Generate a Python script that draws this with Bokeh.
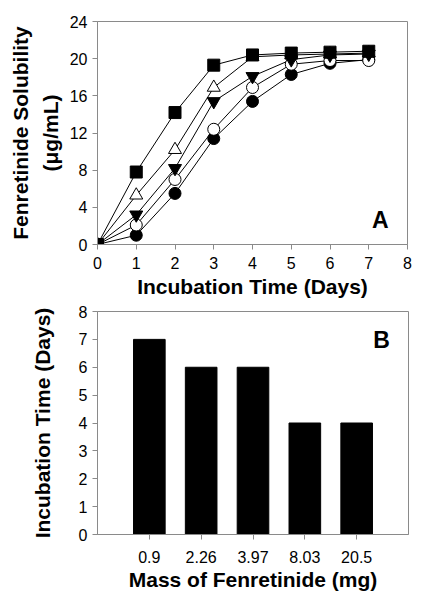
from bokeh.plotting import figure
from bokeh.layouts import column
from bokeh.models import FixedTicker, Label, FactorRange, Range1d
from bokeh.embed import file_html
from bokeh.resources import INLINE

# ---- Panel A data ----
days = [0, 1, 2, 3, 4, 5, 6, 7]
sq_filled = [0, 7.8, 14.2, 19.3, 20.4, 20.6, 20.7, 20.8]
tri_open = [0, 5.3, 10.2, 16.9, 20.2, 20.4, 20.5, 20.6]
tri_down = [0, 3.2, 8.2, 15.4, 18.1, 19.9, 20.4, 20.5]
circ_open = [0, 2.1, 7.0, 12.4, 16.9, 19.4, 19.8, 19.8]
circ_filled = [0, 1.0, 5.5, 11.4, 15.4, 18.3, 19.5, 19.9]
x_ticks_a = [0, 1, 2, 3, 4, 5, 6, 7, 8]
y_ticks_a = [0, 4, 8, 12, 16, 20, 24]

# ---- Panel B data ----
masses = ["0.9", "2.26", "3.97", "8.03", "20.5"]
incubation_days = [7, 6, 6, 4, 4]
y_ticks_b = [0, 1, 2, 3, 4, 5, 6, 7, 8]

FONT = "Liberation Sans"
GRAY = "#8a8a8a"


def style(p):
    p.toolbar_location = None
    p.xgrid.visible = False
    p.ygrid.visible = False
    p.outline_line_color = GRAY
    p.outline_line_width = 1
    p.background_fill_color = "white"
    p.border_fill_color = "white"
    for ax in (p.xaxis[0], p.yaxis[0]):
        ax.axis_line_color = GRAY
        ax.major_tick_line_color = GRAY
        ax.major_tick_out = 5
        ax.major_tick_in = 0
        ax.minor_tick_line_color = None
        ax.major_label_text_font = FONT
        ax.major_label_text_font_size = "16px"
        ax.major_label_text_color = "black"
        ax.axis_label_text_font = FONT
        ax.axis_label_text_font_size = "21px"
        ax.axis_label_text_font_style = "bold"
        ax.axis_label_text_color = "black"


# ---------------- Panel A ----------------
pa = figure(output_backend="svg", toolbar_location=None,
            frame_width=310, frame_height=223,
            x_range=Range1d(0, 8), y_range=Range1d(0, 24),
            min_border_left=97, min_border_top=21, min_border_right=12,
            min_border_bottom=56)
style(pa)
pa.xaxis.ticker = FixedTicker(ticks=x_ticks_a)
pa.yaxis.ticker = FixedTicker(ticks=y_ticks_a)
pa.xaxis.axis_label = "Incubation Time (Days)"
pa.yaxis.axis_label = "Fenretinide Solubility\n(\u03bcg/mL)"
pa.yaxis.axis_label_text_line_height = 1.3
pa.xaxis.major_label_standoff = 7
pa.xaxis.axis_label_standoff = 3
pa.yaxis.major_label_standoff = 5
pa.yaxis.axis_label_standoff = 5

series = [
    (circ_filled, "circle", "black", 12),
    (circ_open, "circle", "white", 12),
    (tri_down, "inverted_triangle", "black", 13),
    (tri_open, "triangle", "white", 13),
    (sq_filled, "square", "black", 12),
]
for vals, _, _, _ in series:
    pa.line(days, vals, line_color="black", line_width=1)
for vals, marker, fill, size in series:
    pa.scatter(days, vals, marker=marker, size=size, fill_color=fill,
               line_color="black", line_width=1)

pa.add_layout(Label(x=7.3, y=2.6, text="A", text_font=FONT,
                    text_font_size="23px", text_font_style="bold",
                    text_color="black",
                    text_align="center", text_baseline="middle"))

# ---------------- Panel B ----------------
pb = figure(output_backend="svg", toolbar_location=None,
            frame_width=311, frame_height=223,
            x_range=FactorRange(factors=masses, range_padding=0.2),
            y_range=Range1d(0, 8),
            min_border_left=96, min_border_top=11, min_border_right=12,
            min_border_bottom=55)
style(pb)
pb.yaxis.ticker = FixedTicker(ticks=y_ticks_b)
pb.xaxis.axis_label = "Mass of Fenretinide (mg)"
pb.yaxis.axis_label = "Incubation Time (Days)"
pb.xaxis.major_label_standoff = 11
pb.xaxis.axis_label_standoff = 2
pb.yaxis.major_label_standoff = 5
pb.yaxis.axis_label_standoff = 22
pb.vbar(x=masses, top=incubation_days, width=0.61, bottom=0,
        fill_color="black", line_color="black")
pb.add_layout(Label(x=4.98, y=6.96, text="B", text_font=FONT,
                    text_font_size="23px", text_font_style="bold",
                    text_color="black",
                    text_align="center", text_baseline="middle"))

layout = column(pa, pb, spacing=0)
open("out.html", "w").write(file_html(layout, INLINE))
